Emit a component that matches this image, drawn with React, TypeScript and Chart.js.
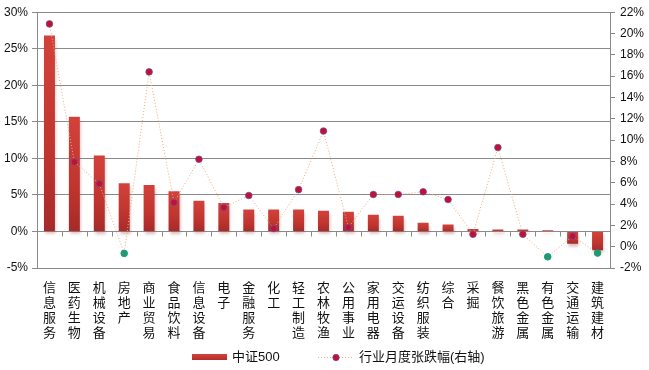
import React, { useEffect, useRef } from 'react';
import { Chart, registerables } from 'chart.js';

Chart.register(...registerables);

const categories = ['信息服务', '医药生物', '机械设备', '房地产', '商业贸易', '食品饮料', '信息设备', '电子', '金融服务', '化工', '轻工制造', '农林牧渔', '公用事业', '家用电器', '交运设备', '纺织服装', '综合', '采掘', '餐饮旅游', '黑色金属', '有色金属', '交通运输', '建筑建材'];
const csi500 = [26.8, 15.7, 10.4, 6.6, 6.35, 5.5, 4.2, 3.9, 3.0, 3.0, 3.0, 2.85, 2.7, 2.3, 2.15, 1.2, 0.95, 0.35, 0.28, 0.28, 0.15, -1.67, -2.57];
const monthly = [20.9, 7.95, 5.9, -0.63, 16.4, 4.14, 8.2, 3.67, 4.8, 1.7, 5.35, 10.85, 1.8, 4.9, 4.9, 5.15, 4.42, 1.16, 9.3, 1.16, -0.95, 0.98, -0.6];
const leftTicks = { min: -5, max: 30, step: 5 };
const rightTicks = { min: -2, max: 22, step: 2 };
const seriesNames = ['中证500', '行业月度张跌幅(右轴)'];

const GRID = '#8a8a8a';
const LINE = '#f0a878';
const RED_PT = '#c4102e';
const GREEN_PT = '#1e9a74';

function barGradient(ctx: CanvasRenderingContext2D, yTop: number, yBot: number): any {
  if (!isFinite(yTop) || !isFinite(yBot) || yBot <= yTop) return '#c43a34';
  const g = ctx.createLinearGradient(0, yTop, 0, yBot);
  g.addColorStop(0, '#d2423b');
  g.addColorStop(0.6, '#c0352f');
  g.addColorStop(1, '#a62a2a');
  return g;
}

const zeroTicks = {
  id: 'zeroTicks',
  beforeDatasetsDraw(chart: any) {
    const { ctx, chartArea, scales } = chart;
    const y0 = Math.round(scales.y.getPixelForValue(0)) + 0.5;
    const n = categories.length;
    const w = (chartArea.right - chartArea.left) / n;
    ctx.save();
    ctx.strokeStyle = GRID;
    ctx.lineWidth = 1;
    ctx.beginPath();
    for (let i = 0; i <= n; i++) {
      const x = Math.round(chartArea.left + i * w) + 0.5;
      ctx.moveTo(x, y0);
      ctx.lineTo(x, y0 + 5);
    }
    ctx.stroke();
    ctx.restore();
  },
};

const barShadow = {
  id: 'barShadow',
  beforeDatasetDraw(chart: any, args: any) {
    if (args.index !== 0) return;
    const ctx = chart.ctx;
    ctx.save();
    ctx.shadowColor = 'rgba(140,60,60,0.35)';
    ctx.shadowOffsetX = 1;
    ctx.shadowOffsetY = 3;
    ctx.shadowBlur = 3;
  },
  afterDatasetDraw(chart: any, args: any) {
    if (args.index !== 0) return;
    chart.ctx.restore();
  },
};

const customLegend = {
  id: 'customLegend',
  afterDraw(chart: any) {
    const { ctx } = chart;
    const cy = 357;
    ctx.save();
    ctx.fillStyle = barGradient(ctx, 354, 361);
    ctx.fillRect(192, 354, 35, 6);
    ctx.font = "13px 'Liberation Sans', 'Noto Sans CJK SC', sans-serif";
    ctx.fillStyle = '#111';
    ctx.textBaseline = 'middle';
    ctx.textAlign = 'left';
    ctx.fillText(seriesNames[0], 232, cy);
    ctx.strokeStyle = LINE;
    ctx.lineWidth = 1;
    ctx.setLineDash([1, 2]);
    ctx.beginPath();
    ctx.moveTo(318, cy + 0.5);
    ctx.lineTo(354, cy + 0.5);
    ctx.stroke();
    ctx.setLineDash([]);
    ctx.beginPath();
    ctx.arc(336, cy + 0.5, 3.2, 0, Math.PI * 2);
    ctx.fillStyle = RED_PT;
    ctx.fill();
    ctx.strokeStyle = 'rgba(110,80,160,0.8)';
    ctx.stroke();
    ctx.fillStyle = '#111';
    ctx.fillText(seriesNames[1], 359, cy);
    ctx.restore();
  },
};

export default function App() {
  const ref = useRef<HTMLCanvasElement | null>(null);
  useEffect(() => {
    if (!ref.current) return;
    const tickFont = { family: "'Liberation Sans', Arial, sans-serif", size: 12 };
    const chart = new Chart(ref.current, {
      type: 'bar',
      data: {
        labels: categories.map((c) => c.split('')),
        datasets: [
          {
            type: 'bar',
            label: seriesNames[0],
            data: csi500,
            yAxisID: 'y',
            order: 1,
            barPercentage: 0.44,
            categoryPercentage: 1,
            backgroundColor: (c: any) => {
              const ch = c.chart;
              const ys = ch.scales && ch.scales.y;
              if (!ys || c.dataIndex === undefined) return '#c43a34';
              const v = csi500[c.dataIndex];
              const p0 = ys.getPixelForValue(0);
              const pv = ys.getPixelForValue(v);
              const top = Math.min(p0, pv);
              const bot = Math.max(p0, pv) + 0.01;
              return barGradient(ch.ctx, top, bot);
            },
            borderWidth: 0,
          } as any,
          {
            type: 'line',
            label: seriesNames[1],
            data: monthly,
            yAxisID: 'y1',
            order: 0,
            borderColor: LINE,
            borderWidth: 1,
            borderDash: [1, 2],
            fill: false,
            tension: 0,
            pointRadius: 3.3,
            pointBorderWidth: 1,
            pointBackgroundColor: monthly.map((v) => (v < 0 ? GREEN_PT : RED_PT)),
            pointBorderColor: monthly.map((v) => (v < 0 ? GREEN_PT : 'rgba(110,80,160,0.8)')),
          } as any,
        ],
      },
      options: {
        responsive: false,
        animation: false,
        devicePixelRatio: 1,
        layout: { padding: { top: 9, left: 0, right: 0, bottom: 0 } },
        plugins: {
          legend: { display: false },
          tooltip: { enabled: false },
        },
        scales: {
          x: {
            grid: { display: false, drawTicks: false },
            border: { display: false },
            ticks: {
              autoSkip: false,
              maxRotation: 0,
              minRotation: 0,
              padding: 12,
              color: '#111',
              font: { family: "'Noto Sans CJK SC', sans-serif", size: 13, lineHeight: '15px' } as any,
            },
            afterFit: (s: any) => {
              s.height = 102;
            },
          },
          y: {
            position: 'left',
            min: leftTicks.min,
            max: leftTicks.max,
            ticks: {
              stepSize: leftTicks.step,
              callback: (v: any) => v + '%',
              color: '#111',
              padding: 4,
              font: tickFont,
            },
            grid: { color: GRID, tickLength: 5, lineWidth: 1 },
            border: { display: true, color: GRID },
            afterFit: (s: any) => {
              s.width = 37;
            },
          },
          y1: {
            position: 'right',
            min: rightTicks.min,
            max: rightTicks.max,
            ticks: {
              stepSize: rightTicks.step,
              callback: (v: any) => v + '%',
              color: '#111',
              padding: 5,
              font: tickFont,
            },
            grid: { drawOnChartArea: false, color: GRID, tickLength: 5 },
            border: { display: true, color: GRID },
            afterFit: (s: any) => {
              s.width = 39;
            },
          },
        },
      } as any,
      plugins: [zeroTicks, barShadow, customLegend],
    });
    return () => chart.destroy();
  }, []);
  return (
    <div style={{ position: 'absolute', left: 0, top: 0, width: 649, height: 370, background: '#fff' }}>
      <canvas ref={ref} width={649} height={370} style={{ width: 649, height: 370, display: 'block' }} />
    </div>
  );
}
